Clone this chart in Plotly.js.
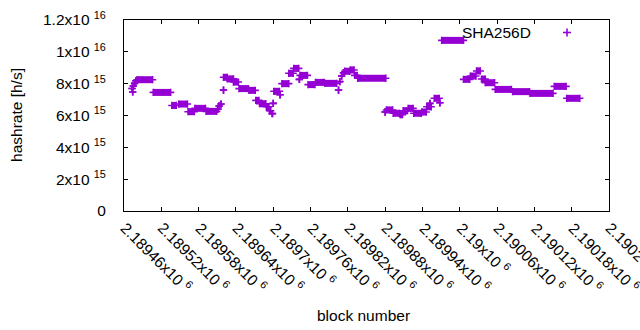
<!DOCTYPE html>
<html>
<head>
<meta charset="utf-8">
<script src="https://cdn.plot.ly/plotly-3.0.1.min.js"></script>
<style>html,body{margin:0;padding:0;background:#fff;}#chart{width:640px;height:330px;}</style>
</head>
<body>
<div id="chart"></div>
<script>
// Runs of blocks with the same hashrate (block number start/end, hashrate in h/s)
const blockStart = [2189473,2189474,2189475,2189477,2189479,2189481,2189507,2189537,2189548,2189563,2189574,2189592,2189611,2189613,2189616,2189620,2189620,2189626,2189636,2189645,2189661,2189672,2189678,2189689,2189694,2189698,2189700,2189701,2189711,2189714,2189725,2189733,2189742,2189743,2189756,2189768,2189783,2189805,2189807,2189810,2189813,2189815,2189824,2189831,2189836,2189880,2189882,2189893,2189904,2189909,2189917,2189926,2189939,2189947,2189952,2189959,2189968,2189971,2190006,2190017,2190027,2190035,2190041,2190057,2190085,2190113,2190152,2190172];
const blockEnd   = [2189473,2189474,2189475,2189477,2189479,2189506,2189535,2189544,2189562,2189573,2189591,2189609,2189611,2189613,2189616,2189620,2189626,2189636,2189644,2189660,2189671,2189677,2189688,2189693,2189696,2189699,2189700,2189710,2189711,2189725,2189732,2189741,2189742,2189755,2189767,2189782,2189802,2189805,2189807,2189810,2189813,2189823,2189830,2189835,2189881,2189880,2189892,2189903,2189908,2189916,2189925,2189938,2189946,2189954,2189952,2189967,2189968,2190006,2190016,2190026,2190033,2190041,2190056,2190083,2190112,2190150,2190171,2190193];
const hashrate   = [7.70e15,7.48e15,7.85e15,8.02e15,8.18e15,8.25e15,7.45e15,6.63e15,6.72e15,6.24e15,6.45e15,6.26e15,6.40e15,6.60e15,6.72e15,7.60e15,8.40e15,8.30e15,8.10e15,7.69e15,7.58e15,6.95e15,6.74e15,6.55e15,6.30e15,6.12e15,6.76e15,7.52e15,7.30e15,8.00e15,8.65e15,8.96e15,8.27e15,8.52e15,7.94e15,8.08e15,8.02e15,7.60e15,8.13e15,8.48e15,8.69e15,8.78e15,8.86e15,8.52e15,8.34e15,6.22e15,6.35e15,6.14e15,6.05e15,6.30e15,6.45e15,6.14e15,6.22e15,6.55e15,6.76e15,7.08e15,6.80e15,10.72e15,8.27e15,8.48e15,8.80e15,8.29e15,8.06e15,7.64e15,7.50e15,7.39e15,7.83e15,7.08e15];

const xTickVals = [2189460,2189520,2189580,2189640,2189700,2189760,2189820,2189880,2189940,2190000,2190060,2190120,2190180,2190240];
const xTickText = ['2.18946','2.18952','2.18958','2.18964','2.1897','2.18976','2.18982','2.18988','2.18994','2.19','2.19006','2.19012','2.19018','2.19024'];
const xTickExp = '6';
const yTickVals = [0,2e15,4e15,6e15,8e15,1e16,1.2e16];
const yTickMant = ['0','2','4','6','8','1','1.2'];
const yTickExp  = ['','15','15','15','15','16','16'];

const seriesName = 'SHA256D';
const color = '#9400d3';

const xs = [], ys = [];
for (let i = 0; i < blockStart.length; i++) {
  xs.push(blockStart[i], blockEnd[i], null);
  ys.push(hashrate[i], hashrate[i], null);
}

const font = {family: '"Liberation Sans", Arial, sans-serif', size: 15.5, color: '#000'};

const trace = {
  x: xs, y: ys, type: 'scatter', mode: 'lines+markers', name: seriesName,
  line: {color: color, width: 7},
  marker: {symbol: 'cross-thin-open', size: 5.2, color: color, line: {color: color, width: 1.6}},
  connectgaps: false, hoverinfo: 'skip', showlegend: false
};

const lx = 0.9134, ly = 0.9346, dx = 4/485, dy = 4/191;

const annotations = [
  {text: 'hashrate [h/s]', xref: 'paper', yref: 'paper', x: -0.2206, y: 0.503, textangle: -90,
   showarrow: false, xanchor: 'center', yanchor: 'middle', font: font},
  {text: 'block number', xref: 'paper', yref: 'paper', x: 0.4948, y: -0.5497,
   showarrow: false, xanchor: 'center', yanchor: 'middle', font: font},
  {text: seriesName, xref: 'paper', yref: 'paper', x: 0.8433, y: ly,
   showarrow: false, xanchor: 'right', yanchor: 'middle', font: font}
];
xTickVals.forEach((v, i) => {
  annotations.push({
    text: xTickText[i] + 'x10 <sup>' + xTickExp + '</sup>',
    xref: 'x', yref: 'paper', x: v, y: 0, xanchor: 'left', yanchor: 'top',
    textangle: 45, showarrow: false, xshift: -8, yshift: -5, font: font, borderpad: 0
  });
});

const layout = {
  width: 640, height: 330,
  margin: {l: 124, r: 31, t: 20, b: 119},
  paper_bgcolor: '#fff', plot_bgcolor: '#fff',
  font: font,
  showlegend: false,
  xaxis: {
    range: [2189460, 2190240], showgrid: false, zeroline: false,
    showline: true, linecolor: '#000', linewidth: 1, mirror: 'ticks',
    ticks: 'inside', ticklen: 4, tickcolor: '#000',
    tickvals: xTickVals, showticklabels: false
  },
  yaxis: {
    range: [0, 1.2e16], showgrid: false, zeroline: false,
    showline: true, linecolor: '#000', linewidth: 1, mirror: 'ticks',
    ticks: 'inside', ticklen: 4, tickcolor: '#000',
    tickvals: yTickVals,
    ticktext: yTickMant.map((m, i) => yTickExp[i] ? m + 'x10 <sup>' + yTickExp[i] + '</sup>' : m),
    ticklabelstandoff: 14, tickfont: font
  },
  annotations: annotations,
  shapes: [
    {type: 'line', xref: 'paper', yref: 'paper', x0: lx - dx, x1: lx + dx, y0: ly, y1: ly, line: {color: color, width: 1.6}},
    {type: 'line', xref: 'paper', yref: 'paper', x0: lx, x1: lx, y0: ly - dy, y1: ly + dy, line: {color: color, width: 1.6}}
  ]
};

Plotly.newPlot('chart', [trace], layout, {staticPlot: true, displayModeBar: false});
</script>
</body>
</html>
